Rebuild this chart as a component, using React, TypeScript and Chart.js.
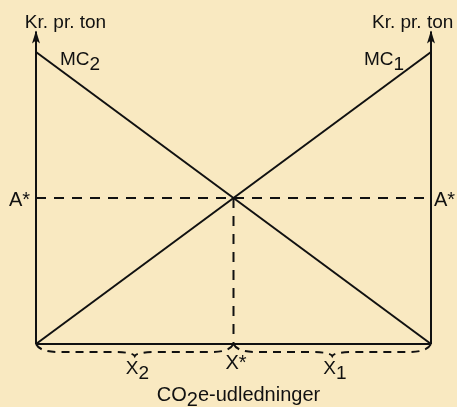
import React, { useEffect, useRef } from "react";
import { Chart, registerables } from "chart.js";

Chart.register(...registerables);

// ---- data (chart values) ----
const X_DOMAIN = [0, 100];
const MC1 = [0, 100]; // y at x = 0 and x = 100
const MC2 = [100, 0];
const A_STAR = 50;
const X_STAR = 50;
const AXIS_TOP = 107;
const Y_LABEL = "Kr. pr. ton";
const X_LABEL_MAIN = ["CO", "2", "e-udledninger"];
const BG = "#F9E9C1";
const INK = "#111111";
const FONT = "'Liberation Sans', Arial, sans-serif";

function drawSub(ctx: CanvasRenderingContext2D, x: number, y: number, main: string, sub: string, rest: string, size: number, align: "left" | "center" = "left") {
  ctx.font = `${size}px ${FONT}`;
  const wMain = ctx.measureText(main).width;
  const wSub = ctx.measureText(sub).width;
  const wRest = ctx.measureText(rest).width;
  const total = wMain + wSub + wRest;
  const x0 = align === "center" ? x - total / 2 : x;
  ctx.textAlign = "left";
  ctx.textBaseline = "alphabetic";
  ctx.fillText(main, x0, y);
  ctx.fillText(sub, x0 + wMain, y + 5);
  if (rest) ctx.fillText(rest, x0 + wMain + wSub, y);
}

function brace(ctx: CanvasRenderingContext2D, xa: number, xb: number, y0: number) {
  const h = 8;
  const c = 4;
  const r = 22;
  const mid = (xa + xb) / 2;
  ctx.beginPath();
  ctx.moveTo(xa, y0);
  ctx.quadraticCurveTo(xa + 4, y0 + h, xa + r, y0 + h);
  ctx.lineTo(mid - r, y0 + h);
  ctx.quadraticCurveTo(mid - 2, y0 + h, mid, y0 + h + c);
  ctx.quadraticCurveTo(mid + 2, y0 + h, mid + r, y0 + h);
  ctx.lineTo(xb - r, y0 + h);
  ctx.quadraticCurveTo(xb - 4, y0 + h, xb, y0);
  ctx.stroke();
}

const annotPlugin = {
  id: "annot",
  beforeDraw(chart: any) {
    const ctx = chart.ctx;
    ctx.save();
    ctx.fillStyle = BG;
    ctx.fillRect(0, 0, chart.width, chart.height);
    ctx.restore();
  },
  afterDatasetsDraw(chart: any) {
    const ctx: CanvasRenderingContext2D = chart.ctx;
    const xs = chart.scales.x;
    const ys = chart.scales.y;
    const xl = xs.getPixelForValue(X_DOMAIN[0]);
    const xr = xs.getPixelForValue(X_DOMAIN[1]);
    const xm = xs.getPixelForValue(X_STAR);
    const yb = ys.getPixelForValue(0);
    const ya = ys.getPixelForValue(A_STAR);
    const yt = ys.getPixelForValue(AXIS_TOP);
    ctx.save();
    // arrows
    ctx.fillStyle = INK;
    for (const x of [xl, xr]) {
      ctx.beginPath();
      ctx.moveTo(x, yt - 1);
      ctx.lineTo(x - 4, yt + 12);
      ctx.lineTo(x, yt + 9);
      ctx.lineTo(x + 4, yt + 12);
      ctx.closePath();
      ctx.fill();
    }
    // braces
    ctx.strokeStyle = INK;
    ctx.lineWidth = 2;
    ctx.setLineDash([8, 6]);
    brace(ctx, xl, xm, yb);
    brace(ctx, xm, xr, yb);
    ctx.setLineDash([]);
    // texts
    ctx.fillStyle = INK;
    ctx.textBaseline = "alphabetic";
    ctx.font = `19px ${FONT}`;
    ctx.textAlign = "center";
    ctx.fillText(Y_LABEL, xl + 29.5, yt - 4);
    ctx.textAlign = "left";
    ctx.fillText(Y_LABEL, xr - 59, yt - 4);
    drawSub(ctx, xl + 24, ys.getPixelForValue(MC2[0]) + 12.5, "MC", "2", "", 19);
    drawSub(ctx, xr - 67, ys.getPixelForValue(MC1[1]) + 12.5, "MC", "1", "", 19);
    ctx.font = `20px ${FONT}`;
    ctx.textAlign = "right";
    ctx.fillText("A*", xl - 6, ya + 8);
    ctx.textAlign = "left";
    ctx.fillText("A*", xr + 3, ya + 8);
    ctx.fillText("X*", xm - 8, yb + 25);
    drawSub(ctx, (xl + xm) / 2 - 9, yb + 30, "X", "2", "", 19);
    drawSub(ctx, (xm + xr) / 2 - 9, yb + 30, "X", "1", "", 19);
    drawSub(ctx, xm + 5, yb + 57, X_LABEL_MAIN[0], X_LABEL_MAIN[1], X_LABEL_MAIN[2], 20, "center");
    ctx.restore();
  },
};

export default function App() {
  const ref = useRef<HTMLCanvasElement | null>(null);
  useEffect(() => {
    document.body.style.margin = "0";
    document.body.style.background = BG;
    if (!ref.current) return;
    const line = (data: { x: number; y: number }[], dash: number[] = []) => ({
      data,
      showLine: true,
      borderColor: INK,
      borderWidth: 2,
      borderDash: dash,
      pointRadius: 0,
      clip: false as any,
      fill: false,
    });
    const chart = new Chart(ref.current, {
      type: "scatter",
      data: {
        datasets: [
          line([{ x: X_DOMAIN[0], y: 0 }, { x: X_DOMAIN[0], y: AXIS_TOP }]),
          line([{ x: X_DOMAIN[1], y: 0 }, { x: X_DOMAIN[1], y: AXIS_TOP }]),
          line([{ x: X_DOMAIN[0], y: 0 }, { x: X_DOMAIN[1], y: 0 }]),
          line([{ x: X_DOMAIN[0], y: MC1[0] }, { x: X_DOMAIN[1], y: MC1[1] }]),
          line([{ x: X_DOMAIN[0], y: MC2[0] }, { x: X_DOMAIN[1], y: MC2[1] }]),
          line([{ x: X_DOMAIN[0], y: A_STAR }, { x: X_DOMAIN[1], y: A_STAR }], [10, 8]),
          line([{ x: X_STAR, y: A_STAR }, { x: X_STAR, y: 0 }], [10, 8]),
        ],
      },
      options: {
        animation: false,
        responsive: false,
        layout: { padding: { left: 36, right: 26, top: 52, bottom: 63 } },
        scales: {
          x: { type: "linear", min: X_DOMAIN[0], max: X_DOMAIN[1], display: false },
          y: { type: "linear", min: 0, max: 100, display: false },
        },
        plugins: { legend: { display: false }, tooltip: { enabled: false } },
      },
      plugins: [annotPlugin],
    });
    return () => chart.destroy();
  }, []);
  return <canvas ref={ref} width={457} height={407} style={{ display: "block" }} />;
}
